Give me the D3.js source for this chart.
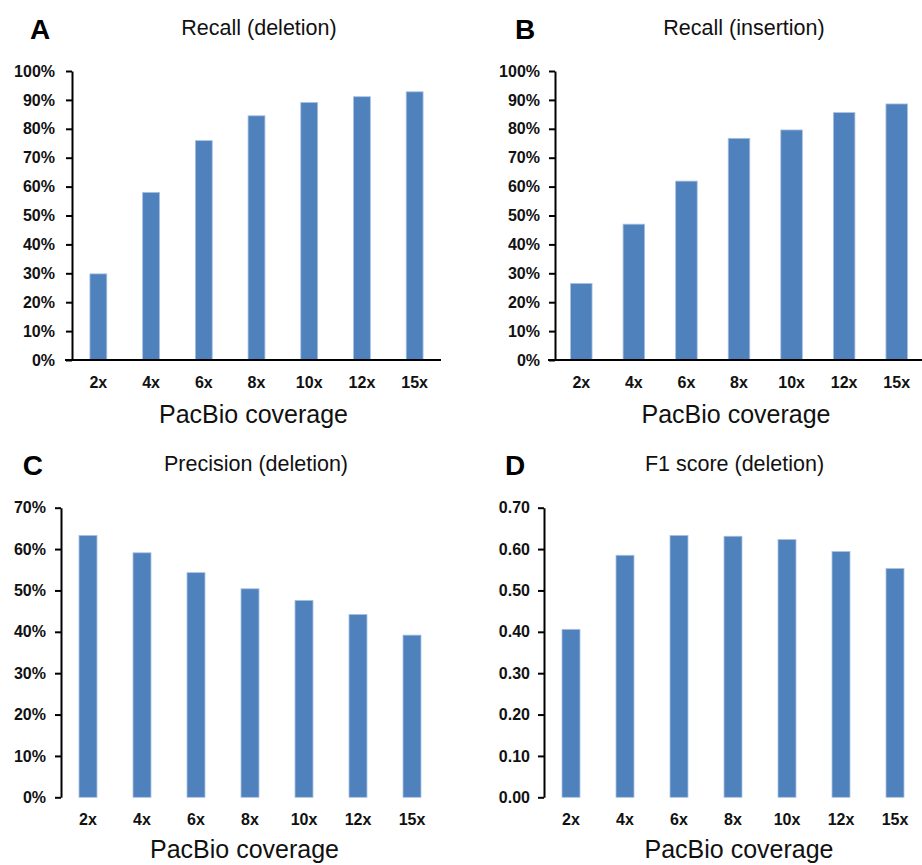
<!DOCTYPE html>
<html>
<head>
<meta charset="utf-8">
<script src="https://cdn.jsdelivr.net/npm/d3@7"></script>
<style>
  html, body { margin: 0; padding: 0; background: #fff; }
  svg { display: block; font-family: "Liberation Sans", Arial, sans-serif; }
</style>
</head>
<body>
<svg id="chart" width="922" height="865"></svg>
<script>
// Coverage levels shared by all four panels
const coverage = ["2x", "4x", "6x", "8x", "10x", "12x", "15x"];

// Per-panel measurements
const recallDeletion    = [0.298, 0.580, 0.759, 0.845, 0.891, 0.911, 0.928];
const recallInsertion   = [0.265, 0.470, 0.619, 0.767, 0.796, 0.856, 0.886];
const precisionDeletion = [0.633, 0.591, 0.543, 0.504, 0.476, 0.442, 0.392];
const f1Deletion        = [0.406, 0.585, 0.633, 0.631, 0.623, 0.594, 0.553];

// Tick values for the y axes
const recallTicks    = [0, 0.1, 0.2, 0.3, 0.4, 0.5, 0.6, 0.7, 0.8, 0.9, 1.0];
const precisionTicks = [0, 0.1, 0.2, 0.3, 0.4, 0.5, 0.6, 0.7];
const f1Ticks        = [0, 0.1, 0.2, 0.3, 0.4, 0.5, 0.6, 0.7];

const panelTitles = ["Recall (deletion)", "Recall (insertion)", "Precision (deletion)", "F1 score (deletion)"];
const panelLetters = ["A", "B", "C", "D"];
const xAxisTitle = "PacBio coverage";

const BAR = "#4f81bd";
const svg = d3.select("#chart");

const panels = [
  { letter: panelLetters[0], title: panelTitles[0], values: recallDeletion, ticks: recallTicks,
    domainMax: 1.0, fmt: d3.format(".0%"),
    x0: 72, x1: 441, yTop: 71, yBottom: 360, barPad: 0.68, baseline: true,
    letterX: 30, letterY: 39, titleX: 259, titleY: 34.5, axisTitleX: 253.5, axisTitleY: 422.5, tickPad: 11 },
  { letter: panelLetters[1], title: panelTitles[1], values: recallInsertion, ticks: recallTicks,
    domainMax: 1.0, fmt: d3.format(".0%"),
    x0: 555, x1: 923, yTop: 71, yBottom: 360, barPad: 0.59, baseline: true,
    letterX: 515, letterY: 39, titleX: 744, titleY: 34.5, axisTitleX: 736, axisTitleY: 422.5, tickPad: 9 },
  { letter: panelLetters[2], title: panelTitles[2], values: precisionDeletion, ticks: precisionTicks,
    domainMax: 0.7, fmt: d3.format(".0%"),
    x0: 61, x1: 439, yTop: 507.7, yBottom: 797.3, barPad: 0.667, baseline: false,
    letterX: 22.7, letterY: 475, titleX: 256, titleY: 471, axisTitleX: 244.5, axisTitleY: 858, tickPad: 9 },
  { letter: panelLetters[3], title: panelTitles[3], values: f1Deletion, ticks: f1Ticks,
    domainMax: 0.7, fmt: d3.format(".2f"),
    x0: 544, x1: 922, yTop: 507.7, yBottom: 797.3, barPad: 0.667, baseline: false,
    letterX: 505, letterY: 475, titleX: 734.5, titleY: 471, axisTitleX: 739, axisTitleY: 858, tickPad: 8 }
];

panels.forEach(p => {
  const g = svg.append("g");

  const x = d3.scaleBand()
    .domain(coverage)
    .range([p.x0, p.x1])
    .paddingInner(p.barPad)
    .paddingOuter(p.barPad / 2);

  const y = d3.scaleLinear()
    .domain([0, p.domainMax])
    .range([p.yBottom, p.yTop]);

  // Bars
  g.append("g")
    .selectAll("rect")
    .data(p.values)
    .join("rect")
    .attr("x", (d, i) => x(coverage[i]))
    .attr("y", d => y(d))
    .attr("width", x.bandwidth())
    .attr("height", d => y(0) - y(d))
    .attr("fill", BAR)
    .attr("stroke", "#a9c1e1")
    .attr("stroke-width", 0.8);

  // x axis: category labels, with a baseline only on the recall panels
  const xAxis = g.append("g")
    .attr("transform", `translate(0,${p.yBottom})`)
    .call(d3.axisBottom(x).tickSize(0).tickPadding(16.5));
  xAxis.selectAll("text")
    .attr("font-family", "Liberation Sans, Arial, sans-serif")
    .attr("font-size", 16)
    .attr("font-weight", "bold")
    .attr("fill", "#111");
  if (p.baseline) {
    xAxis.select(".domain").attr("stroke", "#000").attr("stroke-width", 2)
      .attr("d", `M${p.x0 - 7},0H${p.x1}`);
  } else {
    xAxis.select(".domain").remove();
  }

  // y axis
  const yAxis = g.append("g")
    .attr("transform", `translate(${p.x0},0)`)
    .call(d3.axisLeft(y).tickValues(p.ticks).tickFormat(p.fmt)
      .tickSize(6).tickSizeOuter(0).tickPadding(p.tickPad));
  yAxis.select(".domain").attr("stroke", "#000").attr("stroke-width", 2);
  yAxis.selectAll(".tick line").attr("stroke", "#000").attr("stroke-width", 2);
  yAxis.selectAll("text")
    .attr("font-family", "Liberation Sans, Arial, sans-serif")
    .attr("font-size", 16)
    .attr("font-weight", "bold")
    .attr("fill", "#111");

  // Panel letter
  g.append("text")
    .attr("x", p.letterX)
    .attr("y", p.letterY)
    .attr("font-size", 28)
    .attr("font-weight", "bold")
    .attr("fill", "#000")
    .text(p.letter);

  // Panel title
  g.append("text")
    .attr("x", p.titleX)
    .attr("y", p.titleY)
    .attr("text-anchor", "middle")
    .attr("font-size", 21.5)
    .attr("fill", "#111")
    .text(p.title);

  // x axis title
  g.append("text")
    .attr("x", p.axisTitleX)
    .attr("y", p.axisTitleY)
    .attr("text-anchor", "middle")
    .attr("font-size", 25)
    .attr("fill", "#111")
    .text(xAxisTitle);
});
</script>
</body>
</html>
